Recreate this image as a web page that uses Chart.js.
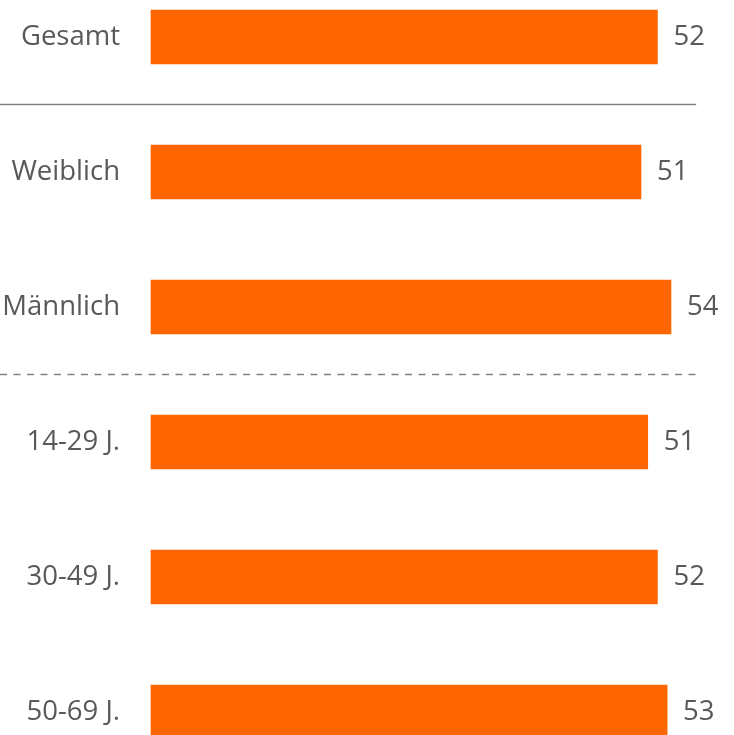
<!DOCTYPE html>
<html>
<head>
<meta charset="utf-8">
<script src="https://cdn.jsdelivr.net/npm/chart.js@4/dist/chart.umd.min.js"></script>
<style>
  body { margin: 0; background: #fff; }
  #wrap { width: 734px; height: 735px; position: relative; }
</style>
</head>
<body>
<div id="wrap"><canvas id="chart"></canvas></div>
<script>
const categories = ["Gesamt", "Weiblich", "Männlich", "14-29 J.", "30-49 J.", "50-69 J."];
const values = [52.3, 50.6, 53.7, 51.3, 52.3, 53.3];
const valueLabels = ["52", "51", "54", "51", "52", "53"];
// separators drawn after these category indexes
const solidAfter = [0];
const dashedAfter = [2];

const textColor = '#595959';
const fontFamily = "'Open Sans', 'Noto Sans', sans-serif";

const valueLabelPlugin = {
  id: 'valueLabels',
  afterDatasetsDraw(chart) {
    const ctx = chart.ctx;
    const meta = chart.getDatasetMeta(0);
    ctx.save();
    ctx.fillStyle = textColor;
    ctx.font = "27.5px " + fontFamily;
    ctx.textBaseline = 'middle';
    meta.data.forEach((bar, i) => {
      ctx.fillText(valueLabels[i], bar.x + 16, bar.y);
    });
    ctx.restore();
  }
};

const separators = {
  id: 'separators',
  beforeDatasetsDraw(chart) {
    const ctx = chart.ctx;
    const y = chart.scales.y;
    const x = chart.scales.x;
    const xEnd = x.getPixelForValue(56.3);
    ctx.save();
    ctx.strokeStyle = '#808080';
    ctx.lineWidth = 1.4;
    solidAfter.forEach(i => {
      const py = (y.getPixelForValue(i) + y.getPixelForValue(i + 1)) / 2;
      ctx.beginPath();
      ctx.moveTo(0, py);
      ctx.lineTo(xEnd, py);
      ctx.stroke();
    });
    ctx.setLineDash([7, 6.5]);
    dashedAfter.forEach(i => {
      const py = (y.getPixelForValue(i) + y.getPixelForValue(i + 1)) / 2;
      ctx.beginPath();
      ctx.moveTo(0, py);
      ctx.lineTo(xEnd, py);
      ctx.stroke();
    });
    ctx.restore();
  }
};

new Chart(document.getElementById('chart'), {
  type: 'bar',
  data: {
    labels: categories,
    datasets: [{
      data: values,
      backgroundColor: '#FF6600',
      barThickness: 54,
      clip: false
    }]
  },
  options: {
    indexAxis: 'y',
    responsive: true,
    maintainAspectRatio: false,
    animation: false,
    layout: { padding: { top: 37, bottom: 23, left: 0, right: 2 } },
    plugins: { legend: { display: false }, tooltip: { enabled: false } },
    scales: {
      x: { display: false, min: 0, max: 60 },
      y: {
        offset: false,
        grid: { display: false, drawTicks: false },
        border: { display: false },
        ticks: { color: textColor, padding: 31, font: { family: fontFamily, size: 27.5 } },
        afterFit(scale) {
          scale.width = 151;
          scale.paddingTop = 0;
          scale.paddingBottom = 0;
        }
      }
    }
  },
  plugins: [separators, valueLabelPlugin]
});
</script>
</body>
</html>
